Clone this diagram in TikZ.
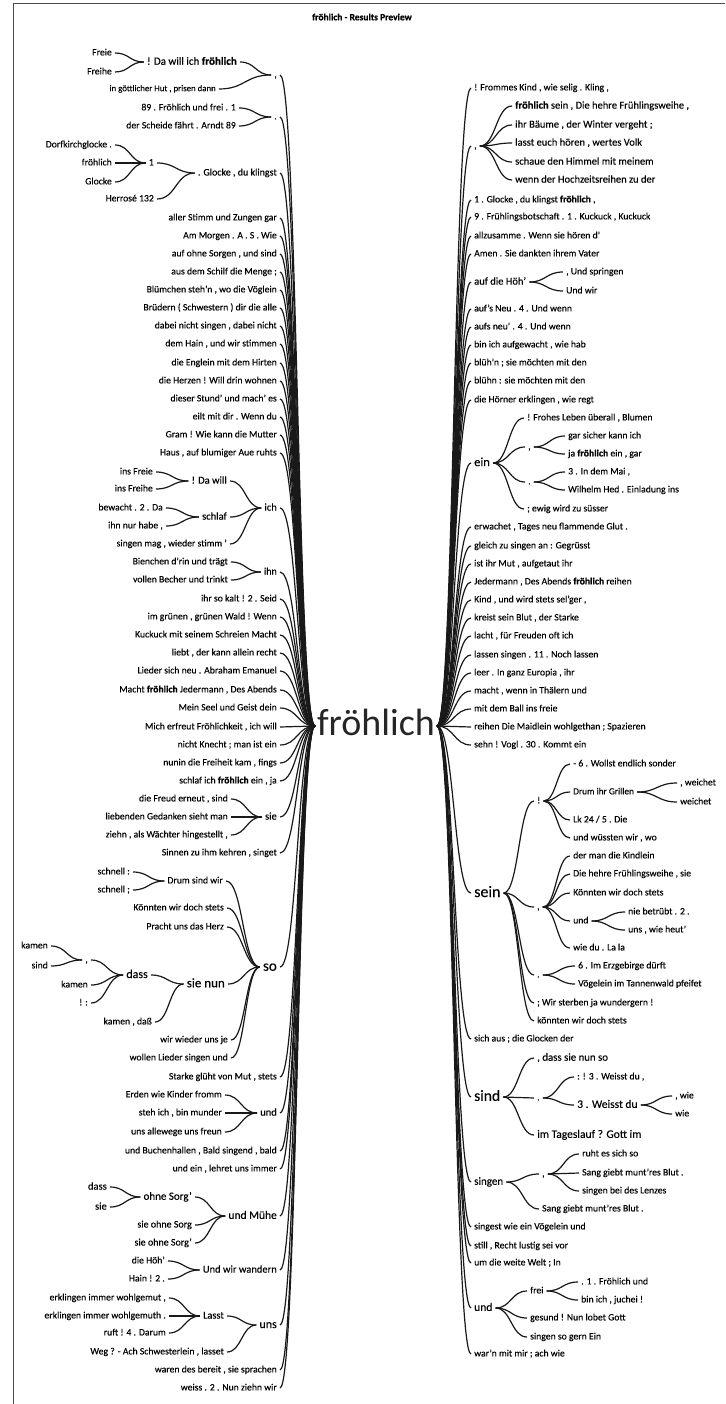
\documentclass[tikz,border=0pt]{standalone}
\usepackage{fontspec}
\setmainfont{Carlito}[UprightFeatures={FakeBold=0.2}]
\newfontfamily\bigfont{Carlito}
\newfontfamily\bwfam{Carlito}[BoldFeatures={FakeBold=0.6}]
\newcommand\fb[1]{{\bwfam\bfseries #1}}
\usetikzlibrary{calc}
\tikzset{
 fs/.style={font=\fontsize{#1}{#1}\selectfont, /utils/exec={\pgfmathsetmacro\fsth{0.7*#1}\pgfmathsetmacro\fstd{0.2*#1}}, text height=\fsth pt, text depth=\fstd pt},
 w/.style={inner xsep=3pt, inner ysep=1pt, fs=9.7, text=black},
 lt/.style={w, anchor=east},
 rt/.style={w, anchor=west},
 cn/.style={line width=1.2pt, black!90},
}
\newcommand\wcon[2]{\draw[cn] let \p1=(#1.east), \p2=(#2.west) in (\p1) .. controls ({(\x1+\x2)/2},\y1) and ({(\x1+\x2)/2},\y2) .. (\p2);}
\begin{document}
\begin{tikzpicture}[x=1pt,y=-1pt]
\useasboundingbox (0,0) rectangle (725,1404);
\draw[line width=0.8pt, black!70] (13,1404) -- (13,3) -- (725,3);
\node[font=\fontsize{9.5}{10}\selectfont\bwfam\bfseries] (title) at (362,17) {fröhlich - Results Preview};
\node[fs=38, font=\bigfont\fontsize{38}{38}\selectfont, inner xsep=2pt, inner ysep=0pt, text=black!85] (fr) at (376,726) {fröhlich};
% ---------- left ----------
\node[lt] (l1) at (280,75) {,};
\node[lt,fs=11] (l1a) at (240,62) {! Da will ich \fb{fröhlich}};
\node[lt] (l1a1) at (115,53) {Freie};
\node[lt] (l1a2) at (115,72) {Freihe};
\node[lt,fs=8.8] (l1b) at (219,89) {in göttlicher Hut , prisen dann};
\node[lt] (l2) at (280,117) {.};
\node[lt] (l2a) at (239,108) {89 . Fröhlich und frei . 1};
\node[lt] (l2b) at (239,126) {der Scheide fährt . Arndt 89};
\node[lt,fs=10] (l3) at (280,173) {. Glocke , du klingst};
\node[lt,fs=10] (l3a) at (157,163) {1};
\node[lt] (l3a1) at (115,145) {Dorfkirchglocke .};
\node[lt] (l3a2) at (115,163) {fröhlich};
\node[lt] (l3a3) at (115,182) {Glocke};
\node[lt] (l3b) at (157,199) {Herrosé 132};
\node[lt] (l4) at (280,218) {aller Stimm und Zungen gar};
\node[lt] (l5) at (280,236) {Am Morgen . A . S . Wie};
\node[lt] (l6) at (280,254) {auf ohne Sorgen , und sind};
\node[lt] (l7) at (280,272) {aus dem Schilf die Menge ;};
\node[lt] (l8) at (280,290) {Blümchen steh'n , wo die Vöglein};
\node[lt] (l9) at (280,308) {Brüdern ( Schwestern ) dir die alle};
\node[lt] (l10) at (280,326) {dabei nicht singen , dabei nicht};
\node[lt] (l11) at (280,344) {dem Hain , und wir stimmen};
\node[lt] (l12) at (280,363) {die Englein mit dem Hirten};
\node[lt] (l13) at (280,381) {die Herzen ! Will drin wohnen};
\node[lt] (l14) at (280,399) {dieser Stund' und mach' es};
\node[lt] (l15) at (280,417) {eilt mit dir . Wenn du};
\node[lt] (l16) at (280,435) {Gram ! Wie kann die Mutter};
\node[lt] (l17) at (280,453) {Haus , auf blumiger Aue ruhts};
\node[lt,fs=10.5] (l18) at (280,508) {ich};
\node[lt,fs=10.5] (l18a) at (230,481) {! Da will};
\node[lt] (l18a1) at (156,472) {ins Freie};
\node[lt] (l18a2) at (156,489) {ins Freihe};
\node[lt,fs=10.5] (l18b) at (230,517) {schlaf};
\node[lt] (l18b1) at (166,508) {bewacht . 2 . Da};
\node[lt] (l18b2) at (166,526) {ihn nur habe ,};
\node[lt] (l18c) at (230,544) {singen mag , wieder stimm '};
\node[lt,fs=10] (l19) at (280,572) {ihn};
\node[lt] (l19a) at (231,562) {Bienchen d'rin und trägt};
\node[lt] (l19b) at (231,580) {vollen Becher und trinkt};
\node[lt] (l20) at (280,599) {ihr so kalt ! 2 . Seid};
\node[lt] (l21) at (280,617) {im grünen , grünen Wald ! Wenn};
\node[lt] (l22) at (280,635) {Kuckuck mit seinem Schreien Macht};
\node[lt] (l23) at (280,653) {liebt , der kann allein recht};
\node[lt] (l24) at (280,671) {Lieder sich neu . Abraham Emanuel};
\node[lt] (l25) at (280,690) {Macht \fb{fröhlich} Jedermann , Des Abends};
\node[lt] (l26) at (280,708) {Mein Seel und Geist dein};
\node[lt] (l27) at (280,727) {Mich erfreut Fröhlichkeit , ich will};
\node[lt] (l28) at (280,745) {nicht Knecht ; man ist ein};
\node[lt] (l29) at (280,763) {nunin die Freiheit kam , fings};
\node[lt] (l30) at (280,781) {schlaf ich \fb{fröhlich} ein , ja};
\node[lt,fs=10.5] (l31) at (280,817) {sie};
\node[lt] (l31a) at (231,799) {die Freud erneut , sind};
\node[lt] (l31b) at (231,817) {liebenden Gedanken sieht man};
\node[lt] (l31c) at (231,835) {ziehn , als Wächter hingestellt ,};
\node[lt] (l32) at (280,853) {Sinnen zu ihm kehren , singet};
\node[lt,fs=15] (l33) at (280,967) {so};
\node[lt] (l33a) at (226,881) {Drum sind wir};
\node[lt] (l33a1) at (133,872) {schnell :};
\node[lt] (l33a2) at (133,890) {schnell ;};
\node[lt] (l33b) at (227,908) {Könnten wir doch stets};
\node[lt] (l33c) at (227,927) {Pracht uns das Herz};
\node[lt,fs=13] (l33d) at (228,984) {sie nun};
\node[lt,fs=12] (l33d1) at (151,975) {dass};
\node[lt] (l33d1a) at (91,960) {,};
\node[lt] (l33d1a1) at (51,946) {kamen};
\node[lt] (l33d1a2) at (51,966) {sind};
\node[lt] (l33d1b) at (91,985) {kamen};
\node[lt] (l33d1c) at (91,1003) {! :};
\node[lt] (l33d2) at (155,1022) {kamen , daß};
\node[lt] (l33e) at (231,1040) {wir wieder uns je};
\node[lt] (l33f) at (231,1058) {wollen Lieder singen und};
\node[lt] (l34) at (280,1077) {Starke glüht von Mut , stets};
\node[lt,fs=10.5] (l35) at (280,1113) {und};
\node[lt] (l35a) at (225,1095) {Erden wie Kinder fromm};
\node[lt] (l35b) at (225,1113) {steh ich , bin munder};
\node[lt] (l35c) at (225,1132) {uns allewege uns freun};
\node[lt] (l36) at (280,1151) {und Buchenhallen , Bald singend , bald};
\node[lt] (l37) at (280,1169) {und ein , lehret uns immer};
\node[lt,fs=11.5] (l38) at (280,1216) {und Mühe};
\node[lt,fs=11] (l38a) at (195,1197) {ohne Sorg'};
\node[lt,fs=10.5] (l38a1) at (110,1187) {dass};
\node[lt,fs=10.5] (l38a2) at (110,1207) {sie};
\node[lt,fs=10] (l38b) at (195,1225) {sie ohne Sorg};
\node[lt,fs=10] (l38c) at (195,1243) {sie ohne Sorg'};
\node[lt,fs=10.5] (l39) at (280,1270) {Und wir wandern};
\node[lt] (l39a) at (168,1261) {die Höh'};
\node[lt] (l39b) at (168,1279) {Hain ! 2 .};
\node[lt,fs=12] (l40) at (280,1325) {uns};
\node[lt,fs=10.3] (l40a) at (227,1316) {Lasst};
\node[lt] (l40a1) at (169,1298) {erklingen immer wohlgemut ,};
\node[lt] (l40a2) at (169,1316) {erklingen immer wohlgemuth .};
\node[lt] (l40a3) at (169,1333) {ruft ! 4 . Darum};
\node[lt] (l40b) at (227,1352) {Weg ? - Ach Schwesterlein , lasset};
\node[lt] (l41) at (280,1370) {waren des bereit , sie sprachen};
\node[lt] (l42) at (280,1388) {weiss . 2 . Nun ziehn wir};
% ---------- right ----------
\node[rt] (r1) at (471,88) {! Frommes Kind , wie selig . Kling ,};
\node[rt] (r2) at (471,146) {,};
\node[rt,fs=10.5] (r2a) at (512,106) {\fb{fröhlich} sein , Die hehre Frühlingsweihe ,};
\node[rt,fs=10.5] (r2b) at (512,125) {ihr Bäume , der Winter vergeht ;};
\node[rt,fs=10.5] (r2c) at (512,143) {lasst euch hören , wertes Volk};
\node[rt,fs=10.5] (r2d) at (512,162) {schaue den Himmel mit meinem};
\node[rt,fs=10.5] (r2e) at (512,180) {wenn der Hochzeitsreihen zu der};
\node[rt] (r3) at (471,200) {1 . Glocke , du klingst \fb{fröhlich} ,};
\node[rt] (r4) at (471,217) {9 . Frühlingsbotschaft . 1 . Kuckuck , Kuckuck};
\node[rt] (r5) at (471,236) {allzusamme . Wenn sie hören d'};
\node[rt] (r6) at (471,254) {Amen . Sie dankten ihrem Vater};
\node[rt,fs=10.5] (r7) at (471,282) {auf die Höh'};
\node[rt] (r7a) at (563,272) {, Und springen};
\node[rt] (r7b) at (563,291) {Und wir};
\node[rt] (r8) at (471,309) {auf's Neu . 4 . Und wenn};
\node[rt] (r9) at (471,327) {aufs neu' . 4 . Und wenn};
\node[rt] (r10) at (471,345) {bin ich aufgewacht , wie hab};
\node[rt] (r11) at (471,363) {blüh'n ; sie möchten mit den};
\node[rt] (r12) at (471,381) {blühn : sie möchten mit den};
\node[rt] (r13) at (471,400) {die Hörner erklingen , wie regt};
\node[rt,fs=12.5] (r14) at (471,463) {ein};
\node[rt] (r14a) at (524,418) {! Frohes Leben überall , Blumen};
\node[rt] (r14b) at (525,447) {,};
\node[rt] (r14b1) at (565,436) {gar sicher kann ich};
\node[rt] (r14b2) at (565,454) {ja \fb{fröhlich} ein , gar};
\node[rt] (r14c) at (525,482) {.};
\node[rt] (r14c1) at (565,472) {3 . In dem Mai ,};
\node[rt] (r14c2) at (565,490) {Wilhelm Hed . Einladung ins};
\node[rt] (r14d) at (524,509) {; ewig wird zu süsser};
\node[rt] (r15) at (471,527) {erwachet , Tages neu flammende Glut .};
\node[rt] (r16) at (471,546) {gleich zu singen an : Gegrüsst};
\node[rt] (r17) at (471,564) {ist ihr Mut , aufgetaut ihr};
\node[rt] (r18) at (471,582) {Jedermann , Des Abends \fb{fröhlich} reihen};
\node[rt] (r19) at (471,600) {Kind , und wird stets sel'ger ,};
\node[rt] (r20) at (471,618) {kreist sein Blut , der Starke};
\node[rt] (r21) at (471,636) {lacht , für Freuden oft ich};
\node[rt] (r22) at (471,655) {lassen singen . 11 . Noch lassen};
\node[rt] (r23) at (471,673) {leer . In ganz Europia , ihr};
\node[rt] (r24) at (471,691) {macht , wenn in Thälern und};
\node[rt] (r25) at (471,709) {mit dem Ball ins freie};
\node[rt] (r26) at (471,727) {reihen Die Maidlein wohlgethan ; Spazieren};
\node[rt] (r27) at (471,745) {sehn ! Vogl . 30 . Kommt ein};
\node[rt,fs=16] (r28) at (471,893) {sein};
\node[rt] (r28a) at (534,801) {!};
\node[rt] (r28a1) at (570,764) {- 6 . Wollst endlich sonder};
\node[rt,fs=9.3] (r28a2) at (570,792) {Drum ihr Grillen};
\node[rt] (r28a2a) at (677,783) {, weichet};
\node[rt] (r28a2b) at (677,802) {weichet};
\node[rt] (r28a3) at (570,820) {Lk 24 / 5 . Die};
\node[rt] (r28a4) at (570,838) {und wüssten wir , wo};
\node[rt] (r28b) at (534,907) {,};
\node[rt] (r28b1) at (570,856) {der man die Kindlein};
\node[rt] (r28b2) at (570,874) {Die hehre Frühlingsweihe , sie};
\node[rt] (r28b3) at (570,893) {Könnten wir doch stets};
\node[rt] (r28b4) at (570,921) {und};
\node[rt] (r28b4a) at (625,912) {nie betrübt . 2 .};
\node[rt] (r28b4b) at (625,930) {uns , wie heut'};
\node[rt] (r28b5) at (570,948) {wie du . La la};
\node[rt] (r28c) at (534,975) {.};
\node[rt] (r28c1) at (575,966) {6 . Im Erzgebirge dürft};
\node[rt] (r28c2) at (575,984) {Vögelein im Tannenwald pfeifet};
\node[rt] (r28d) at (534,1003) {; Wir sterben ja wundergern !};
\node[rt] (r28e) at (534,1021) {könnten wir doch stets};
\node[rt] (r29) at (471,1039) {sich aus ; die Glocken der};
\node[rt,fs=15.5] (r30) at (471,1097) {sind};
\node[rt,fs=10.8] (r30a) at (534,1058) {, dass sie nun so};
\node[rt] (r30b) at (534,1098) {.};
\node[rt] (r30b1) at (574,1077) {: ! 3 . Weisst du ,};
\node[rt,fs=11.5] (r30b2) at (574,1105) {3 . Weisst du};
\node[rt] (r30b2a) at (672,1096) {, wie};
\node[rt] (r30b2b) at (672,1114) {wie};
\node[rt,fs=11.5] (r30c) at (534,1135) {im Tageslauf ? Gott im};
\node[rt,fs=11] (r31) at (471,1182) {singen};
\node[rt] (r31a) at (539,1174) {,};
\node[rt] (r31a1) at (579,1154) {ruht es sich so};
\node[rt] (r31a2) at (579,1173) {Sang giebt munt'res Blut .};
\node[rt] (r31a3) at (579,1191) {singen bei des Lenzes};
\node[rt] (r31b) at (539,1209) {Sang giebt munt'res Blut .};
\node[rt] (r32) at (471,1227) {singest wie ein Vögelein und};
\node[rt] (r33) at (471,1246) {still , Recht lustig sei vor};
\node[rt] (r34) at (471,1263) {um die weite Welt ; In};
\node[rt,fs=11.5] (r35) at (471,1308) {und};
\node[rt] (r35a) at (527,1291) {frei};
\node[rt] (r35a1) at (578,1282) {. 1 . Fröhlich und};
\node[rt] (r35a2) at (578,1300) {bin ich , juchei !};
\node[rt] (r35b) at (527,1318) {gesund ! Nun lobet Gott};
\node[rt] (r35c) at (527,1337) {singen so gern Ein};
\node[rt] (r36) at (471,1354) {war'n mit mir ; ach wie};
% ---------- connectors left ----------
\wcon{l1a1}{l1a}\wcon{l1a2}{l1a}\wcon{l1a}{l1}\wcon{l1b}{l1}
\wcon{l2a}{l2}\wcon{l2b}{l2}
\wcon{l3a1}{l3a}\wcon{l3a2}{l3a}\wcon{l3a3}{l3a}\wcon{l3a}{l3}\wcon{l3b}{l3}
\wcon{l18a1}{l18a}\wcon{l18a2}{l18a}\wcon{l18a}{l18}\wcon{l18b1}{l18b}\wcon{l18b2}{l18b}\wcon{l18b}{l18}\wcon{l18c}{l18}
\wcon{l19a}{l19}\wcon{l19b}{l19}
\wcon{l31a}{l31}\wcon{l31b}{l31}\wcon{l31c}{l31}
\wcon{l33a1}{l33a}\wcon{l33a2}{l33a}\wcon{l33a}{l33}\wcon{l33b}{l33}\wcon{l33c}{l33}
\wcon{l33d1a1}{l33d1a}\wcon{l33d1a2}{l33d1a}\wcon{l33d1a}{l33d1}\wcon{l33d1b}{l33d1}\wcon{l33d1c}{l33d1}
\wcon{l33d1}{l33d}\wcon{l33d2}{l33d}\wcon{l33d}{l33}\wcon{l33e}{l33}\wcon{l33f}{l33}
\wcon{l35a}{l35}\wcon{l35b}{l35}\wcon{l35c}{l35}
\wcon{l38a1}{l38a}\wcon{l38a2}{l38a}\wcon{l38a}{l38}\wcon{l38b}{l38}\wcon{l38c}{l38}
\wcon{l39a}{l39}\wcon{l39b}{l39}
\wcon{l40a1}{l40a}\wcon{l40a2}{l40a}\wcon{l40a3}{l40a}\wcon{l40a}{l40}\wcon{l40b}{l40}
\foreach \i in {1,...,42}{\wcon{l\i}{fr}}
% ---------- connectors right ----------
\wcon{r2}{r2a}\wcon{r2}{r2b}\wcon{r2}{r2c}\wcon{r2}{r2d}\wcon{r2}{r2e}
\wcon{r7}{r7a}\wcon{r7}{r7b}
\wcon{r14}{r14a}\wcon{r14}{r14b}\wcon{r14b}{r14b1}\wcon{r14b}{r14b2}\wcon{r14}{r14c}\wcon{r14c}{r14c1}\wcon{r14c}{r14c2}\wcon{r14}{r14d}
\wcon{r28}{r28a}\wcon{r28a}{r28a1}\wcon{r28a}{r28a2}\wcon{r28a2}{r28a2a}\wcon{r28a2}{r28a2b}\wcon{r28a}{r28a3}\wcon{r28a}{r28a4}
\wcon{r28}{r28b}\wcon{r28b}{r28b1}\wcon{r28b}{r28b2}\wcon{r28b}{r28b3}\wcon{r28b}{r28b4}\wcon{r28b4}{r28b4a}\wcon{r28b4}{r28b4b}\wcon{r28b}{r28b5}
\wcon{r28}{r28c}\wcon{r28c}{r28c1}\wcon{r28c}{r28c2}\wcon{r28}{r28d}\wcon{r28}{r28e}
\wcon{r30}{r30a}\wcon{r30}{r30b}\wcon{r30b}{r30b1}\wcon{r30b}{r30b2}\wcon{r30b2}{r30b2a}\wcon{r30b2}{r30b2b}\wcon{r30}{r30c}
\wcon{r31}{r31a}\wcon{r31a}{r31a1}\wcon{r31a}{r31a2}\wcon{r31a}{r31a3}\wcon{r31}{r31b}
\wcon{r35}{r35a}\wcon{r35a}{r35a1}\wcon{r35a}{r35a2}\wcon{r35}{r35b}\wcon{r35}{r35c}
\foreach \i in {1,...,36}{\wcon{fr}{r\i}}
\end{tikzpicture}
\end{document}
